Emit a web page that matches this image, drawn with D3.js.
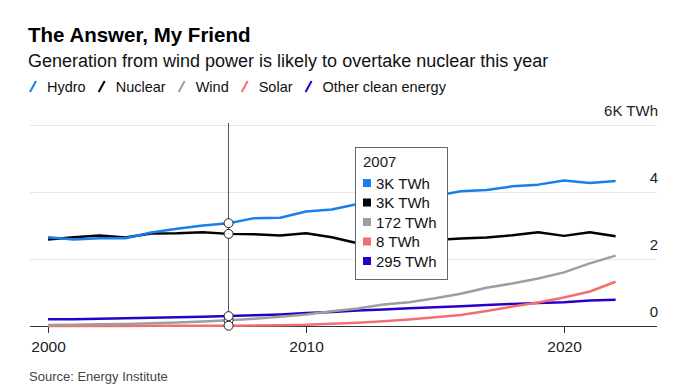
<!DOCTYPE html>
<html>
<head>
<meta charset="utf-8">
<script src="https://cdn.jsdelivr.net/npm/d3@7"></script>
<style>
  body { margin: 0; background: #fff; font-family: "Liberation Sans", Arial, sans-serif; }
</style>
</head>
<body>
<svg id="chart" width="679" height="392"></svg>
<script>
// Years and series, thousand TWh
const years = d3.range(2000, 2023);
const hydro = [2.65, 2.58, 2.62, 2.62, 2.79, 2.90, 3.00, 3.07, 3.22, 3.23, 3.42, 3.48, 3.64, 3.78, 3.88, 3.88, 4.02, 4.06, 4.17, 4.22, 4.34, 4.27, 4.33];
const nuclear = [2.58, 2.65, 2.70, 2.64, 2.76, 2.77, 2.80, 2.75, 2.74, 2.70, 2.77, 2.65, 2.47, 2.49, 2.54, 2.57, 2.61, 2.64, 2.71, 2.80, 2.69, 2.80, 2.68];
const wind = [0.031, 0.038, 0.052, 0.063, 0.085, 0.104, 0.133, 0.172, 0.22, 0.277, 0.346, 0.437, 0.525, 0.64, 0.71, 0.83, 0.96, 1.14, 1.27, 1.42, 1.60, 1.87, 2.10];
const solar = [0.001, 0.0015, 0.002, 0.003, 0.004, 0.005, 0.006, 0.008, 0.012, 0.021, 0.034, 0.065, 0.10, 0.14, 0.195, 0.26, 0.33, 0.445, 0.58, 0.70, 0.85, 1.03, 1.32];
const other = [0.20, 0.205, 0.215, 0.23, 0.245, 0.26, 0.275, 0.295, 0.32, 0.345, 0.385, 0.42, 0.46, 0.49, 0.53, 0.56, 0.59, 0.63, 0.66, 0.69, 0.71, 0.76, 0.78];

const seriesNames = ["Hydro", "Nuclear", "Wind", "Solar", "Other clean energy"];
const seriesColors = ["#1a7fe8", "#000000", "#9e9e9e", "#f36f6f", "#2a00c8"];
const seriesValues = [hydro, nuclear, wind, solar, other];
const tipLabels = ["3K TWh", "3K TWh", "172 TWh", "8 TWh", "295 TWh"];
const yTicks = [0, 2, 4, 6];
const xTicks = [2000, 2010, 2020];
const hoverYear = 2007;

const svg = d3.select("#chart");
const font = "'Liberation Sans', Arial, sans-serif";

// Heading
svg.append("text").attr("x", 28).attr("y", 42)
  .attr("font-size", 20.5).attr("font-weight", "bold").attr("fill", "#000")
  .attr("font-family", font).text("The Answer, My Friend");

svg.append("text").attr("x", 28).attr("y", 67)
  .attr("font-size", 18).attr("fill", "#111")
  .attr("font-family", font).text("Generation from wind power is likely to overtake nuclear this year");

// Legend with slanted strokes
let lx = 29;
const legend = svg.append("g").attr("font-family", font).attr("font-size", 14.5);
seriesNames.forEach((name, i) => {
  legend.append("line")
    .attr("x1", lx + 1).attr("y1", 92).attr("x2", lx + 7).attr("y2", 81)
    .attr("stroke", seriesColors[i]).attr("stroke-width", 2);
  const t = legend.append("text").attr("x", lx + 18).attr("y", 92)
    .attr("fill", "#111").text(name);
  lx += 18 + t.node().getComputedTextLength() + 12;
});

// Scales
const x = d3.scaleLinear().domain([2000, 2020]).range([48, 564]);
const y = d3.scaleLinear().domain([0, 6]).range([326, 125]);
const left = 30, right = 657;

// Gridlines
svg.append("g").selectAll("line").data(yTicks.filter(d => d > 0)).join("line")
  .attr("x1", left).attr("x2", right)
  .attr("y1", d => y(d)).attr("y2", d => y(d))
  .attr("stroke", "#e6e6e6").attr("stroke-width", 1)
  .attr("shape-rendering", "crispEdges");

// Right labels
svg.append("g").selectAll("text").data(yTicks).join("text")
  .attr("x", 658).attr("y", d => y(d) - 9)
  .attr("text-anchor", "end").attr("font-family", font).attr("font-size", 15)
  .attr("fill", "#222")
  .text(d => d === 6 ? "6K TWh" : d);

// Baseline and x axis
const xAxis = svg.append("g")
  .attr("transform", "translate(0," + y(0) + ")")
  .call(d3.axisBottom(x).tickValues(xTicks).tickFormat(d3.format("d")).tickSize(7).tickPadding(8));
xAxis.select(".domain").remove();
xAxis.selectAll(".tick line").attr("stroke", "#333");
xAxis.selectAll(".tick text").attr("font-family", font).attr("font-size", 15.5).attr("fill", "#222");
svg.append("line").attr("x1", left).attr("x2", right).attr("y1", y(0)).attr("y2", y(0))
  .attr("stroke", "#333").attr("stroke-width", 1).attr("shape-rendering", "crispEdges");

// Lines, drawn bottom series first so hydro sits on top
const line = d3.line().x((d, i) => x(years[i])).y(d => y(d));
[4, 3, 2, 1, 0].forEach(i => {
  svg.append("path").datum(seriesValues[i])
    .attr("d", line).attr("fill", "none")
    .attr("stroke", seriesColors[i]).attr("stroke-width", 2.5)
    .attr("stroke-linejoin", "round");
});

// Hover line and markers
const hi = years.indexOf(hoverYear);
svg.append("line").attr("x1", x(hoverYear)).attr("x2", x(hoverYear))
  .attr("y1", 123).attr("y2", y(0))
  .attr("stroke", "#555").attr("stroke-width", 1).attr("shape-rendering", "crispEdges");
seriesValues.forEach(vals => {
  svg.append("circle").attr("cx", x(hoverYear)).attr("cy", y(vals[hi])).attr("r", 4.5)
    .attr("fill", "#fff").attr("stroke", "#222").attr("stroke-width", 1);
});

// Tooltip
const tip = svg.append("g").attr("transform", "translate(355,147)").attr("font-family", font);
tip.append("rect").attr("x", 0.5).attr("y", 0.5).attr("width", 92).attr("height", 132)
  .attr("fill", "#fff").attr("stroke", "#666").attr("stroke-width", 1);
tip.append("text").attr("x", 8).attr("y", 20).attr("font-size", 15).attr("fill", "#222").text(hoverYear);
tipLabels.forEach((lab, i) => {
  const cy = 36 + i * 19.5;
  tip.append("rect").attr("x", 8).attr("y", cy - 4).attr("width", 8).attr("height", 8)
    .attr("fill", seriesColors[i]);
  tip.append("text").attr("x", 21).attr("y", cy + 5.5).attr("font-size", 15).attr("fill", "#111").text(lab);
});

// Source
svg.append("text").attr("x", 29).attr("y", 381)
  .attr("font-family", font).attr("font-size", 13).attr("fill", "#444")
  .text("Source: Energy Institute");
</script>
</body>
</html>
